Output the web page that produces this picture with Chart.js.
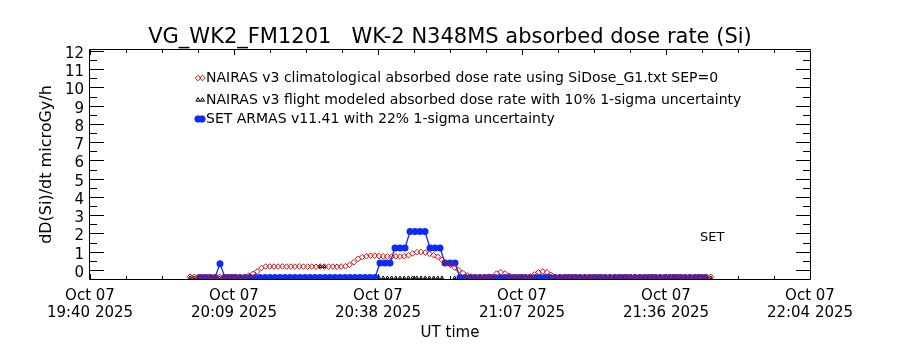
<!DOCTYPE html>
<html>
<head>
    <title>WK-2 N348MS absorbed dose rate</title>
    <script src="https://cdn.jsdelivr.net/npm/chart.js@4.4.1/dist/chart.umd.min.js"></script>
    <style>
        body { margin: 0; background: #fff; }
        #myChart { display: block; }
    </style>
</head>
<body>
<canvas id="myChart" width="900" height="350"></canvas>
<script>
    // x is minutes after 19:40 UT, 07 Oct 2025
    var xTickMinutes = [0, 28.8, 57.6, 86.4, 115.2, 144];
    var xTickDates = ['Oct 07', 'Oct 07', 'Oct 07', 'Oct 07', 'Oct 07', 'Oct 07'];
    var xTickTimes = ['19:40 2025', '20:09 2025', '20:38 2025', '21:07 2025', '21:36 2025', '22:04 2025'];
    var yTicks = [0, 1, 2, 3, 4, 5, 6, 7, 8, 9, 10, 11, 12];

    var titleText = 'VG_WK2_FM1201   WK-2 N348MS absorbed dose rate (Si)';
    var yTitle = 'dD(Si)/dt microGy/h';
    var xTitle = 'UT time';
    var legendLabels = [
        'NAIRAS v3 climatological absorbed dose rate using SiDose_G1.txt SEP=0',
        'NAIRAS v3 flight modeled absorbed dose rate with 10% 1-sigma uncertainty',
        'SET ARMAS v11.41 with 22% 1-sigma uncertainty'
    ];

    // NAIRAS model grid
    var modelStart = 20.0;
    var modelStep = 0.84;
    var climValues = [
        -0.38, -0.38, -0.38, -0.38, -0.38, -0.38, -0.38, -0.38, -0.38, -0.38, -0.38, -0.38, -0.38, -0.38,
        -0.31, -0.22, -0.09, 0.10,
        0.18, 0.19, 0.18, 0.18, 0.19, 0.18, 0.18, 0.18, 0.19, 0.18, 0.18, 0.18, 0.17, 0.18, 0.18, 0.18, 0.18, 0.17, 0.18, 0.20,
        0.27, 0.42, 0.60, 0.70, 0.75, 0.78,
        0.78, 0.76, 0.74, 0.73, 0.73, 0.74, 0.73,
        0.75, 0.80, 0.90, 0.97, 0.98, 0.95, 0.88, 0.80, 0.72, 0.55, 0.38, 0.28, 0.13, -0.02, -0.18, -0.30, -0.37,
        -0.38, -0.38, -0.38, -0.38, -0.38,
        -0.20, -0.13, -0.20, -0.32,
        -0.38, -0.38, -0.38, -0.38, -0.38,
        -0.25, -0.13, -0.09, -0.13, -0.28,
        -0.38, -0.38, -0.38, -0.38, -0.38, -0.38, -0.38, -0.38, -0.38, -0.38,
        -0.38, -0.38, -0.38, -0.38, -0.38, -0.38, -0.38, -0.38, -0.38, -0.38,
        -0.38, -0.38, -0.38, -0.38, -0.38, -0.38, -0.38, -0.38, -0.38, -0.38,
        -0.38, -0.38, -0.38, -0.38, -0.38, -0.38, -0.38, -0.38
    ];
    var flightValues = [
        -0.43, -0.43, -0.43, -0.43, -0.43, -0.43, -0.43, -0.43, -0.43, -0.43,
        -0.43, -0.43, -0.43, -0.43, -0.43, -0.43, -0.43, -0.43, -0.43, -0.43,
        -0.43, -0.43, -0.43, -0.43, -0.43, -0.43, -0.43, -0.43, -0.43, -0.43,
        -0.43, 0.18, 0.18, -0.43, -0.43, -0.43, -0.43, -0.43, -0.43, -0.43,
        -0.43, -0.43, -0.43, -0.43, -0.43, -0.43, -0.43, -0.43, -0.43, -0.43,
        -0.43, -0.43, -0.43, -0.43, -0.43, -0.43, -0.43, -0.43, -0.43, -0.43,
        -0.43, 0.33, 0.33, -0.43, -0.43, -0.43, -0.43, -0.43, -0.43, -0.43,
        -0.43, -0.43, -0.43, -0.43, -0.43, -0.43, -0.43, -0.43, -0.43, -0.43,
        -0.43, -0.43, -0.43, -0.43, -0.43, -0.43, -0.43, -0.43, -0.43, -0.43,
        -0.43, -0.43, -0.43, -0.43, -0.43, -0.43, -0.43, -0.43, -0.43, -0.43,
        -0.43, -0.43, -0.43, -0.43, -0.43, -0.43, -0.43, -0.43, -0.43, -0.43,
        -0.43, -0.43, -0.43, -0.43, -0.43, -0.43, -0.43, -0.43, -0.43, -0.43,
        -0.43, -0.43, -0.43, -0.43, -0.43
    ];

    // SET ARMAS, one sample per minute
    var armasStart = 22;
    var armasStep = 1;
    var armasValues = [
        -0.42, -0.42, -0.42, -0.42,
        0.33,
        -0.42, -0.42, -0.42, -0.42, -0.42, -0.42, -0.42, -0.42, -0.42, -0.42,
        -0.42, -0.42, -0.42, -0.42, -0.42, -0.42, -0.42, -0.42, -0.42, -0.42,
        -0.42, -0.42, -0.42, -0.42, -0.42, -0.42, -0.42, -0.42, -0.42, -0.42, -0.42,
        0.38, 0.38, 0.38,
        1.20, 1.20, 1.20,
        2.10, 2.10, 2.10, 2.10,
        1.20, 1.20, 1.20,
        0.38, 0.38, 0.38,
        -0.42, -0.42, -0.42, -0.42, -0.42, -0.42, -0.42, -0.42, -0.42, -0.42,
        -0.42, -0.42, -0.42, -0.42, -0.42, -0.42, -0.42, -0.42, -0.42, -0.42,
        -0.42, -0.42, -0.42, -0.42, -0.42, -0.42, -0.42, -0.42, -0.42, -0.42,
        -0.42, -0.42, -0.42, -0.42, -0.42, -0.42, -0.42, -0.42, -0.42, -0.42,
        -0.42, -0.42, -0.42, -0.42, -0.42, -0.42, -0.42, -0.42, -0.42, -0.42
    ];

    var RED = '#cc1010';
    var BLUE = '#0b2bff';
    var FONT = 'DejaVu Sans';

    function toPoints(start, step, values) {
        var pts = [];
        for (var i = 0; i < values.length; i++) {
            pts.push({ x: start + i * step, y: values[i] });
        }
        return pts;
    }

    function drawSymbol(ctx, style, radius, x, y) {
        if (Chart.helpers && Chart.helpers.drawPoint) {
            Chart.helpers.drawPoint(ctx, { pointStyle: style, radius: radius, rotation: 0, borderWidth: 1 }, x, y);
        }
    }

    // box, inward ticks and all free text
    var frame = {
        id: 'frame',
        beforeDatasetsDraw: function (chart) {
            var ctx = chart.ctx, a = chart.chartArea;
            var xs = chart.scales.x, ys = chart.scales.y;
            ctx.save();
            ctx.strokeStyle = '#000';
            ctx.lineWidth = 1;
            ctx.beginPath();
            ctx.rect(a.left - 0.5, a.top - 0.5, a.right - a.left + 1, a.bottom - a.top + 1);
            yTicks.forEach(function (v) {
                var py = Math.round(ys.getPixelForValue(v)) + 0.5;
                ctx.moveTo(a.left, py); ctx.lineTo(a.left + 14, py);
                ctx.moveTo(a.right, py); ctx.lineTo(a.right - 14, py);
                var pm = Math.round(ys.getPixelForValue(v - 0.5)) + 0.5;
                if (pm < a.bottom - 1) {
                    ctx.moveTo(a.left, pm); ctx.lineTo(a.left + 7, pm);
                    ctx.moveTo(a.right, pm); ctx.lineTo(a.right - 7, pm);
                }
            });
            for (var i = 0; i < xTickMinutes.length; i++) {
                var px = Math.round(xs.getPixelForValue(xTickMinutes[i])) + 0.5;
                ctx.moveTo(px, a.bottom); ctx.lineTo(px, a.bottom - 5);
                ctx.moveTo(px, a.top); ctx.lineTo(px, a.top + 5);
                if (i < xTickMinutes.length - 1) {
                    var d = (xTickMinutes[i + 1] - xTickMinutes[i]) / 4;
                    for (var k = 1; k < 4; k++) {
                        var qx = Math.round(xs.getPixelForValue(xTickMinutes[i] + k * d)) + 0.5;
                        ctx.moveTo(qx, a.bottom); ctx.lineTo(qx, a.bottom - 3);
                        ctx.moveTo(qx, a.top); ctx.lineTo(qx, a.top + 3);
                    }
                }
            }
            ctx.stroke();
            ctx.restore();
        },
        afterDraw: function (chart) {
            var ctx = chart.ctx, a = chart.chartArea;
            ctx.save();
            ctx.fillStyle = '#000';
            ctx.textBaseline = 'middle';

            ctx.font = '21px "' + FONT + '"';
            ctx.textAlign = 'center';
            ctx.fillText(titleText, (a.left + a.right) / 2, 38);

            ctx.font = '15px "' + FONT + '"';
            ctx.fillText(xTitle, (a.left + a.right) / 2, 333);

            ctx.font = '16px "' + FONT + '"';
            ctx.save();
            ctx.translate(47, (a.top + a.bottom) / 2);
            ctx.rotate(-Math.PI / 2);
            ctx.fillText(yTitle, 0, 0);
            ctx.restore();

            ctx.font = '13px "' + FONT + '"';
            ctx.textAlign = 'left';
            ctx.fillText('SET', 700, 238);

            // legend
            var rows = [78, 100, 119];
            ctx.font = '14px "' + FONT + '"';
            legendLabels.forEach(function (t, i) {
                ctx.fillStyle = '#000';
                ctx.fillText(t, 206, rows[i]);
            });
            ctx.lineWidth = 1;
            ctx.fillStyle = 'rgba(0,0,0,0)';
            ctx.strokeStyle = RED;
            drawSymbol(ctx, 'rectRot', 2.8, 198, rows[0]);
            drawSymbol(ctx, 'rectRot', 2.8, 202.5, rows[0]);
            ctx.strokeStyle = '#000';
            drawSymbol(ctx, 'triangle', 2.4, 198, rows[1]);
            drawSymbol(ctx, 'triangle', 2.4, 202.5, rows[1]);
            ctx.fillStyle = BLUE;
            ctx.strokeStyle = BLUE;
            drawSymbol(ctx, 'circle', 3.2, 198, rows[2]);
            drawSymbol(ctx, 'circle', 3.2, 202, rows[2]);
            ctx.restore();
        }
    };

    var ctx = document.getElementById('myChart').getContext('2d');

    var myChart = new Chart(ctx, {
        type: 'line',
        data: {
            datasets: [{
                label: legendLabels[2],
                data: toPoints(armasStart, armasStep, armasValues),
                borderColor: BLUE,
                borderWidth: 1.3,
                backgroundColor: BLUE,
                pointStyle: 'circle',
                pointRadius: 3.5,
                pointBorderWidth: 0,
                pointBackgroundColor: BLUE,
                tension: 0,
                clip: 0,
                order: 3
            }, {
                label: legendLabels[0],
                data: toPoints(modelStart, modelStep, climValues),
                showLine: false,
                pointStyle: 'rectRot',
                pointRadius: 2.8,
                pointBorderWidth: 1,
                pointBorderColor: RED,
                pointBackgroundColor: 'rgba(255,255,255,0)',
                clip: 0,
                order: 2
            }, {
                label: legendLabels[1],
                data: toPoints(modelStart, modelStep, flightValues),
                showLine: false,
                pointStyle: 'triangle',
                pointRadius: 1.8,
                pointBorderWidth: 1,
                pointBorderColor: '#000',
                pointBackgroundColor: 'rgba(255,255,255,0)',
                clip: 0,
                order: 4
            }]
        },
        options: {
            responsive: false,
            animation: false,
            devicePixelRatio: 1,
            events: [],
            layout: { padding: { left: 0, right: 90, top: 50, bottom: 0 } },
            plugins: {
                legend: { display: false },
                title: { display: false },
                tooltip: { enabled: false }
            },
            scales: {
                x: {
                    type: 'linear',
                    min: 0,
                    max: 144,
                    grid: { display: false, drawTicks: false },
                    border: { display: false },
                    afterFit: function (s) { s.height = 71; },
                    afterBuildTicks: function (s) {
                        s.ticks = xTickMinutes.map(function (v) { return { value: v }; });
                    },
                    ticks: {
                        autoSkip: false,
                        maxRotation: 0,
                        padding: 9,
                        color: '#000',
                        font: { family: FONT, size: 15, lineHeight: 1.13 },
                        callback: function (v, i) { return [xTickDates[i], xTickTimes[i]]; }
                    }
                },
                y: {
                    type: 'linear',
                    min: -0.5,
                    max: 12.05,
                    grid: { display: false, drawTicks: false },
                    border: { display: false },
                    afterFit: function (s) { s.width = 90; },
                    afterBuildTicks: function (s) {
                        s.ticks = yTicks.map(function (v) { return { value: v }; });
                    },
                    ticks: {
                        autoSkip: false,
                        padding: 6,
                        labelOffset: 3,
                        color: '#000',
                        font: { family: FONT, size: 15 }
                    }
                }
            }
        },
        plugins: [frame]
    });
</script>
</body>
</html>
